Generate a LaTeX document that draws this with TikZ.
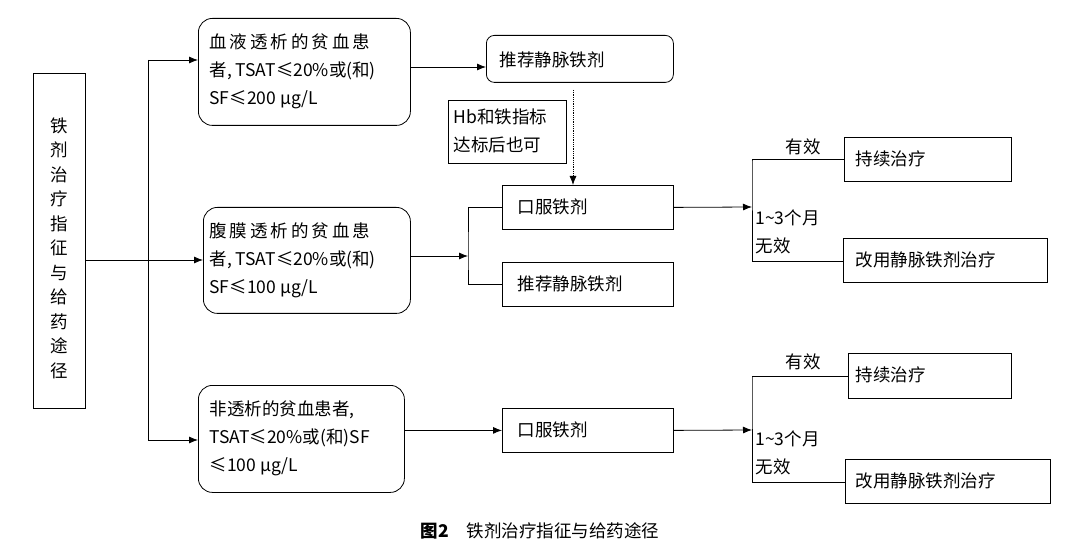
\documentclass[tikz,border=0pt]{standalone}
\usepackage{fontspec}
\setmainfont{Noto Sans CJK SC}
\usetikzlibrary{arrows.meta}
\begin{document}
\begin{tikzpicture}[x=1pt,y=-1pt,
  every node/.style={font=\fontsize{17.5}{28}\selectfont},
  rbox/.style={draw,thick,rounded corners=14pt,align=left,inner sep=0pt,anchor=north west},
  sbox/.style={draw,thick,inner sep=0pt,anchor=north west},
  arr/.style={thick,-{Latex[length=9pt,width=7pt]}},
  ln/.style={thick}]
\useasboundingbox (0,0) rectangle (1080,556);
% left box
\node[sbox,minimum width=52pt,minimum height=335pt] (L) at (33,73) {};
\node[align=center,font=\fontsize{17.5}{24.5}\selectfont] (Lt) at (59,248) {铁\\剂\\治\\疗\\指\\征\\与\\给\\药\\途\\径};
\coordinate (t0) at (148,260);
\coordinate (tt) at (148,60);
\coordinate (tb) at (148,440);
\draw[ln] (L.east|-t0) -- (t0);
\draw[ln] (tt) -- (tb);
% box1
\node[rbox,minimum width=212pt,minimum height=107pt] (B1) at (198,18) {};
\node[align=left,anchor=west] (B1t) at (206,71) {血\,液\,透\,析\,的\,贫\,血\,患\\者, TSAT≤20\%或(和)\\SF≤200 μg/L};
\node[rbox,minimum width=187pt,minimum height=47pt,rounded corners=8pt] (R1) at (486,35) {};
\node[anchor=west] (R1t) at (496,60) {推荐静脉铁剂};
\draw[arr] (tt) -- (tt-|B1.west);
\draw[arr] (B1.east|-0,67) -- (R1.west|-0,67);
% note
\node[sbox,minimum width=118pt,minimum height=63pt] (N) at (448,100) {};
\node[align=left,anchor=west] (Nt) at (450,131) {Hb和铁指标\\达标后也可};
% box2
\node[rbox,minimum width=207pt,minimum height=106pt] (B2) at (203,207) {};
\node[align=left,anchor=west] (B2t) at (206,260) {腹\,膜\,透\,析\,的\,贫\,血\,患\\者, TSAT≤20\%或(和)\\SF≤100 μg/L};
\draw[arr] (t0) -- (t0-|B2.west);
\node[sbox,minimum width=171pt,minimum height=44pt] (O2) at (502,185) {};
\node[anchor=west] (O2t) at (514,207) {口服铁剂};
\node[sbox,minimum width=171pt,minimum height=44pt] (V2) at (502,262) {};
\node[anchor=west] (V2t) at (514,284) {推荐静脉铁剂};
\draw[thick,densely dotted,-{Latex[length=9pt,width=7pt]}] (573,90) -- (O2.north-|573,0);
\coordinate (j2) at (468,256);
\draw[arr] (B2.east|-j2) -- (j2);
\draw[ln] (O2.west) -| (j2) |- (V2.west);
\coordinate (k2) at (752,207);
\draw[arr] (O2.east) -- (k2);
\node[sbox,minimum width=167pt,minimum height=44pt] (C2) at (844,137) {};
\node[anchor=west] (C2t) at (852,159) {持续治疗};
\node[sbox,minimum width=204pt,minimum height=44pt] (G2) at (843,238) {};
\node[anchor=west] (G2t) at (852,260) {改用静脉铁剂治疗};
\draw[ln] (C2.west) -| (752,161) -- (752,261) -- (G2.west|-0,261);
\node (e2) at (803,147) {有效};
\node[align=left,anchor=west] (f2) at (752,232) {1\char`\~3个月\\无效};
% box3
\node[rbox,minimum width=206pt,minimum height=107pt] (B3) at (198,385) {};
\node[align=left,anchor=west] (B3t) at (206,438) {非透析的贫血患者,\\TSAT≤20\%或(和)SF\\≤100 μg/L};
\draw[arr] (tb) -- (tb-|B3.west);
\node[sbox,minimum width=171pt,minimum height=44pt] (O3) at (502,408) {};
\node[anchor=west] (O3t) at (514,430) {口服铁剂};
\draw[arr] (B3.east|-O3.west) -- (O3.west);
\coordinate (k3) at (752,430);
\draw[arr] (O3.east) -- (k3);
\node[sbox,minimum width=163pt,minimum height=45pt] (C3) at (848,353) {};
\node[anchor=west] (C3t) at (852,375) {持续治疗};
\node[sbox,minimum width=205pt,minimum height=44pt] (G3) at (845,459) {};
\node[anchor=west] (G3t) at (852,481) {改用静脉铁剂治疗};
\draw[ln] (C3.west) -| (752,377) -- (752,482) -- (G3.west|-0,482);
\node (e3) at (803,362) {有效};
\node[align=left,anchor=west] (f3) at (752,453) {1\char`\~3个月\\无效};
% caption
\node (cap) at (540,531) {\textbf{图2}\quad 铁剂治疗指征与给药途径};
\end{tikzpicture}
\end{document}
